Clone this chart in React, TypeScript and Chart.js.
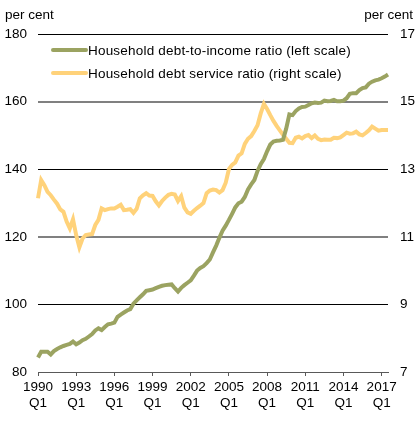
import React, { useEffect, useRef } from "react";
import { Chart, registerables } from "chart.js";

Chart.register(...registerables);

const FONT = '"Liberation Sans", Arial, sans-serif';

// Categories: quarterly 1990 Q1 .. 2017 Q3
const firstYear = 1990;
const quarterCount = 111;
const quarters: string[] = [];
for (let i = 0; i < quarterCount; i++) {
  quarters.push(`${firstYear + Math.floor(i / 4)} Q${(i % 4) + 1}`);
}

// Household debt-to-income ratio (left scale, per cent)
const debtToIncome = [
  84.3, 86.0, 86.0, 86.0, 85.2, 86.2, 86.8, 87.3, 87.7, 88.0,
  88.3, 89.0, 88.2, 88.7, 89.4, 89.8, 90.5, 91.2, 92.3, 92.9,
  92.4, 93.3, 94.1, 94.3, 94.6, 96.3, 97.0, 97.6, 98.2, 98.6,
  100.2, 101.2, 102.1, 103.0, 104.0, 104.2, 104.4, 104.8, 105.2, 105.5,
  105.7, 105.8, 105.9, 104.8, 103.8, 104.9, 105.7, 106.4, 107.1, 108.5,
  110.0, 110.8, 111.3, 112.2, 113.3, 115.4, 117.4, 119.7, 121.8, 123.3,
  125.0, 126.8, 128.7, 129.9, 130.4, 131.8, 134.0, 135.5, 136.8, 139.5,
  141.5, 143.0, 145.3, 147.3, 148.2, 148.4, 148.5, 148.7, 152.0, 156.2,
  156.0, 157.2, 158.0, 158.4, 158.5, 159.0, 159.5, 159.7, 159.6, 159.7,
  160.3, 160.1, 160.2, 160.5, 160.1, 160.1, 160.3, 161.0, 162.3, 162.5,
  162.5, 163.4, 164.0, 164.2, 165.3, 165.9, 166.3, 166.5, 166.9, 167.4,
  168.0,
];

// Household debt service ratio (right scale, per cent)
const debtService = [
  12.14, 12.68, 12.53, 12.33, 12.23, 12.10, 11.98, 11.81, 11.74, 11.45,
  11.25, 11.52, 11.05, 10.69, 10.95, 11.05, 11.07, 11.08, 11.35, 11.50,
  11.84, 11.79, 11.82, 11.84, 11.84, 11.89, 11.95, 11.79, 11.80, 11.82,
  11.71, 11.83, 12.14, 12.23, 12.29, 12.22, 12.21, 12.05, 11.93, 12.06,
  12.16, 12.24, 12.27, 12.25, 12.06, 12.20, 11.86, 11.72, 11.68, 11.77,
  11.85, 11.92, 12.00, 12.29, 12.37, 12.40, 12.38, 12.31, 12.38, 12.60,
  13.00, 13.13, 13.20, 13.40, 13.47, 13.75, 13.90, 13.98, 14.13, 14.30,
  14.65, 14.93, 14.78, 14.60, 14.43, 14.28, 14.15, 14.02, 13.90, 13.78,
  13.77, 13.93, 13.96, 13.91, 13.98, 14.01, 13.92, 14.00, 13.90, 13.86,
  13.88, 13.87, 13.87, 13.93, 13.92, 13.94, 14.01, 14.08, 14.05, 14.06,
  14.11, 14.03, 14.00, 14.07, 14.15, 14.26, 14.20, 14.14, 14.16, 14.16,
  14.16,
];

const seriesNames = [
  "Household debt-to-income ratio (left scale)",
  "Household debt service ratio (right scale)",
];
const seriesColors = ["#9BA361", "#FFD27A"];
const axisTitle = "per cent";

export default function App() {
  const canvasRef = useRef<HTMLCanvasElement | null>(null);

  useEffect(() => {
    if (!canvasRef.current) return;
    const chart = new Chart(canvasRef.current, {
      type: "line",
      data: {
        labels: quarters,
        datasets: [
          {
            label: seriesNames[0],
            data: debtToIncome,
            borderColor: seriesColors[0],
            borderWidth: 4,
            pointRadius: 0,
            tension: 0,
            yAxisID: "y",
          },
          {
            label: seriesNames[1],
            data: debtService,
            borderColor: seriesColors[1],
            borderWidth: 4,
            pointRadius: 0,
            tension: 0,
            yAxisID: "y2",
          },
        ],
      },
      options: {
        animation: false,
        responsive: false,
        maintainAspectRatio: false,
        layout: { padding: { top: 34, left: 0, right: 0, bottom: 0 } },
        plugins: { legend: { display: false }, tooltip: { enabled: false } },
        scales: {
          x: {
            type: "category",
            offset: false,
            border: { display: true, color: "#595959", width: 1 },
            grid: {
              drawOnChartArea: false,
              drawTicks: true,
              tickLength: 4,
              tickColor: (ctx: any) => (ctx.index % 12 === 0 ? "#595959" : "rgba(0,0,0,0)"),
            },
            ticks: {
              autoSkip: false,
              maxRotation: 0,
              minRotation: 0,
              padding: 3,
              color: "#000",
              font: { family: FONT, size: 13.5, lineHeight: 1.2 },
              callback: (_v: any, i: number) => {
                if (i % 12 !== 0) return "";
                const [yr, q] = quarters[i].split(" ");
                return [yr, q];
              },
            },
            afterFit: (s: any) => {
              s.height = 50;
            },
          },
          y: {
            position: "left",
            min: 80,
            max: 180,
            border: { display: false },
            grid: {
              drawTicks: false,
              color: (ctx: any) => {
                const v = ctx.tick?.value;
                if (v === 80) return "rgba(0,0,0,0)";
                if (v === 160 || v === 120) return "#808080";
                return "#000";
              },
              lineWidth: (ctx: any) => {
                const v = ctx.tick?.value;
                return v === 160 || v === 120 ? 2 : 1;
              },
            },
            ticks: {
              stepSize: 20,
              padding: 11,
              color: "#000",
              font: { family: FONT, size: 13.5 },
            },
            afterFit: (s: any) => {
              s.width = 38;
            },
          },
          y2: {
            position: "right",
            min: 7,
            max: 17,
            border: { display: false },
            grid: { drawOnChartArea: false, drawTicks: false },
            ticks: {
              stepSize: 2,
              padding: 12,
              color: "#000",
              font: { family: FONT, size: 13.5 },
            },
            afterFit: (s: any) => {
              s.width = 30;
            },
          },
        },
      },
    });
    return () => chart.destroy();
  }, []);

  const textStyle: React.CSSProperties = {
    position: "absolute",
    fontFamily: FONT,
    fontSize: 13.5,
    color: "#000",
    whiteSpace: "nowrap",
    lineHeight: "16px",
  };

  return (
    <div style={{ position: "fixed", left: 0, top: 0, width: 418, height: 422, background: "#fff" }}>
      <canvas ref={canvasRef} width={418} height={422} style={{ width: 418, height: 422, display: "block" }} />
      <div style={{ ...textStyle, left: 5, top: 7 }}>{axisTitle}</div>
      <div style={{ ...textStyle, right: 5, top: 7 }}>{axisTitle}</div>
      {seriesNames.map((name, i) => (
        <div key={name} style={{ position: "absolute", left: 51, top: 42 + i * 23, height: 16, display: "flex", alignItems: "center" }}>
          <div style={{ width: 37, height: 4, background: seriesColors[i], borderRadius: 2 }} />
          <span style={{ fontFamily: FONT, fontSize: 13.5, color: "#000", whiteSpace: "nowrap", letterSpacing: "0.2px" }}>{name}</span>
        </div>
      ))}
    </div>
  );
}
